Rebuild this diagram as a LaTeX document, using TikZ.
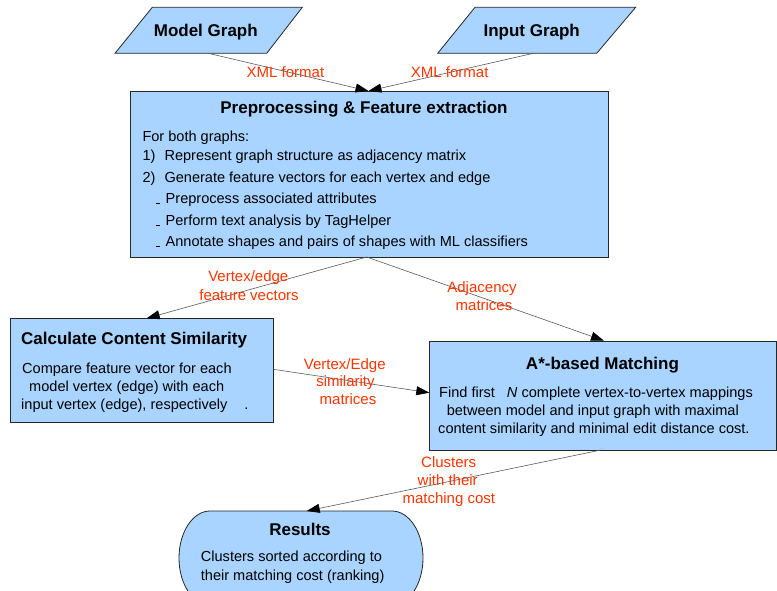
\documentclass[tikz,border=0pt]{standalone}
\usepackage{fontspec}
\setmainfont{Liberation Sans}
\usetikzlibrary{arrows.meta,calc}
\definecolor{boxblue}{RGB}{168,212,255}
\definecolor{lblred}{RGB}{255,51,0}
\begin{document}
\begin{tikzpicture}[x=1pt,y=-1pt,
  box/.style={draw=black!85, fill=boxblue, line width=0.8pt, inner sep=0pt},
  ttl/.style={font=\fontsize{17}{20}\selectfont\bfseries, inner sep=0pt},
  bodytxt/.style={font=\fontsize{14.55}{18}\selectfont, inner sep=0pt},
  lbl/.style={font=\fontsize{15}{17.5}\selectfont, text=lblred, inner sep=0pt},
  conn/.style={draw=black!65, line width=0.6pt, -{Triangle[length=13pt,width=9pt,color=black]}}]
\useasboundingbox (0,0) rectangle (777,591);

% Input parallelograms
\draw[box] (152.3,7.3) -- (302.3,7.3) -- (266.7,53.3) -- (115,53.3) -- cycle;
\node[ttl, anchor=base] (model) at (205.8,36.7) {Model Graph};
\draw[box] (475,7.3) -- (635.7,7.3) -- (596.7,53.3) -- (437.7,53.3) -- cycle;
\node[ttl, anchor=base] (input) at (531.7,36.7) {Input Graph};
\coordinate (modelout) at (208.3,53.3);
\coordinate (inputout) at (533.3,53.3);

% Preprocessing box
\node[box, anchor=north west, minimum width=478.3pt, minimum height=165.7pt] (pre) at (130,91) {};
\node[ttl, anchor=base] (pretitle) at (364,113.3) {Preprocessing \& Feature extraction};
\node[bodytxt, anchor=base west] (pre1) at (142.3,141.7) {For both graphs:};
\node[bodytxt, anchor=base west] (pre2a) at (142.3,161) {1)};
\node[bodytxt, anchor=base west] (pre2) at (164.3,161) {Represent graph structure as adjacency matrix};
\node[bodytxt, anchor=base west] (pre3a) at (142.3,182.7) {2)};
\node[bodytxt, anchor=base west] (pre3) at (164.3,182.7) {Generate feature vectors for each vertex and edge};
\node[bodytxt, anchor=base west] (pre4) at (155.5,204) {\rule[0.5pt]{4pt}{0.7pt}\hspace{6pt}Preprocess associated attributes};
\node[bodytxt, anchor=base west] (pre5) at (155.5,225.7) {\rule[0.5pt]{4pt}{0.7pt}\hspace{6pt}Perform text analysis by TagHelper};
\node[bodytxt, anchor=base west] (pre6) at (155.5,247) {\rule[0.5pt]{4pt}{0.7pt}\hspace{6pt}Annotate shapes and pairs of shapes with ML classifiers};
\coordinate (pretop) at (368.5,91);
\coordinate (prebot) at (366.7,257);

% Calculate Content Similarity box
\node[box, anchor=north west, minimum width=263pt, minimum height=104pt] (calc) at (10.3,318.3) {};
\node[ttl, anchor=base west] (calctitle) at (21,344.3) {Calculate Content Similarity};
\node[bodytxt, anchor=base] (calc1) at (126.9,373.3) {Compare feature vector for each};
\node[bodytxt, anchor=base] (calc2) at (126.7,391) {model vertex (edge) with each};
\node[bodytxt, anchor=base west] (calc3) at (21,409) {input vertex (edge), respectively\hspace{17pt}.};

% A*-based Matching box
\node[box, anchor=north west, minimum width=346.7pt, minimum height=109.3pt] (astar) at (429.3,340.7) {};
\node[ttl, anchor=base] (astartitle) at (602.5,369) {A*-based Matching};
\node[bodytxt, anchor=base] (astar1) at (596,397.7) {Find first\hspace{12pt}\textit{N} complete vertex-to-vertex mappings};
\node[bodytxt, anchor=base] (astar2) at (592.8,415.5) {between model and input graph with maximal};
\node[bodytxt, anchor=base] (astar3) at (593.9,433.3) {content similarity and minimal edit distance cost.};

% Results terminal
\draw[box] (210,511) -- (392,511)
  arc[start angle=90, end angle=-90, x radius=31pt, y radius=47pt]
  -- (210,605)
  arc[start angle=270, end angle=90, x radius=31pt, y radius=47pt] -- cycle;
\node[ttl, anchor=base] (restitle) at (300,535) {Results};
\node[bodytxt, anchor=base west] (res1) at (200.7,561.7) {Clusters sorted according to};
\node[bodytxt, anchor=base west] (res2) at (200.7,580) {their matching cost (ranking)};
\coordinate (restop) at (306.7,511);

% connectors
\coordinate (calctop) at (146.7,318.3);
\coordinate (astartop) at (604,340.7);
\coordinate (calcright) at (273.3,369.3);
\coordinate (astarleft) at (429.3,392.7);
\coordinate (astarbot) at (601,450);
\draw[conn] (modelout) -- (pretop);
\draw[conn] (inputout) -- (pretop);
\draw[conn] (prebot) -- (calctop);
\draw[conn] (prebot) -- (astartop);
\draw[conn] (calcright) -- (astarleft);
\draw[conn] (astarbot) -- (restop);

% labels
\node[lbl, anchor=base] (xml1) at (285.5,77.7) {XML format};
\node[lbl, anchor=base] (xml2) at (449.7,77.7) {XML format};
\node[lbl, anchor=base] (fv1) at (248.3,281.7) {Vertex/edge};
\node[lbl, anchor=base] (fv2) at (249,300) {feature vectors};
\node[lbl, anchor=base] (adj1) at (482,292.7) {Adjacency};
\node[lbl, anchor=base] (adj2) at (484,310) {matrices};
\node[lbl, anchor=base] (sim1) at (344.8,369) {Vertex/Edge};
\node[lbl, anchor=base] (sim2) at (345.5,386.7) {similarity};
\node[lbl, anchor=base] (sim3) at (348,404) {matrices};
\node[lbl, anchor=base] (cl1) at (448.7,467.3) {Clusters};
\node[lbl, anchor=base] (cl2) at (447.7,485) {with their};
\node[lbl, anchor=base] (cl3) at (448.8,503.3) {matching cost};
\end{tikzpicture}
\end{document}
